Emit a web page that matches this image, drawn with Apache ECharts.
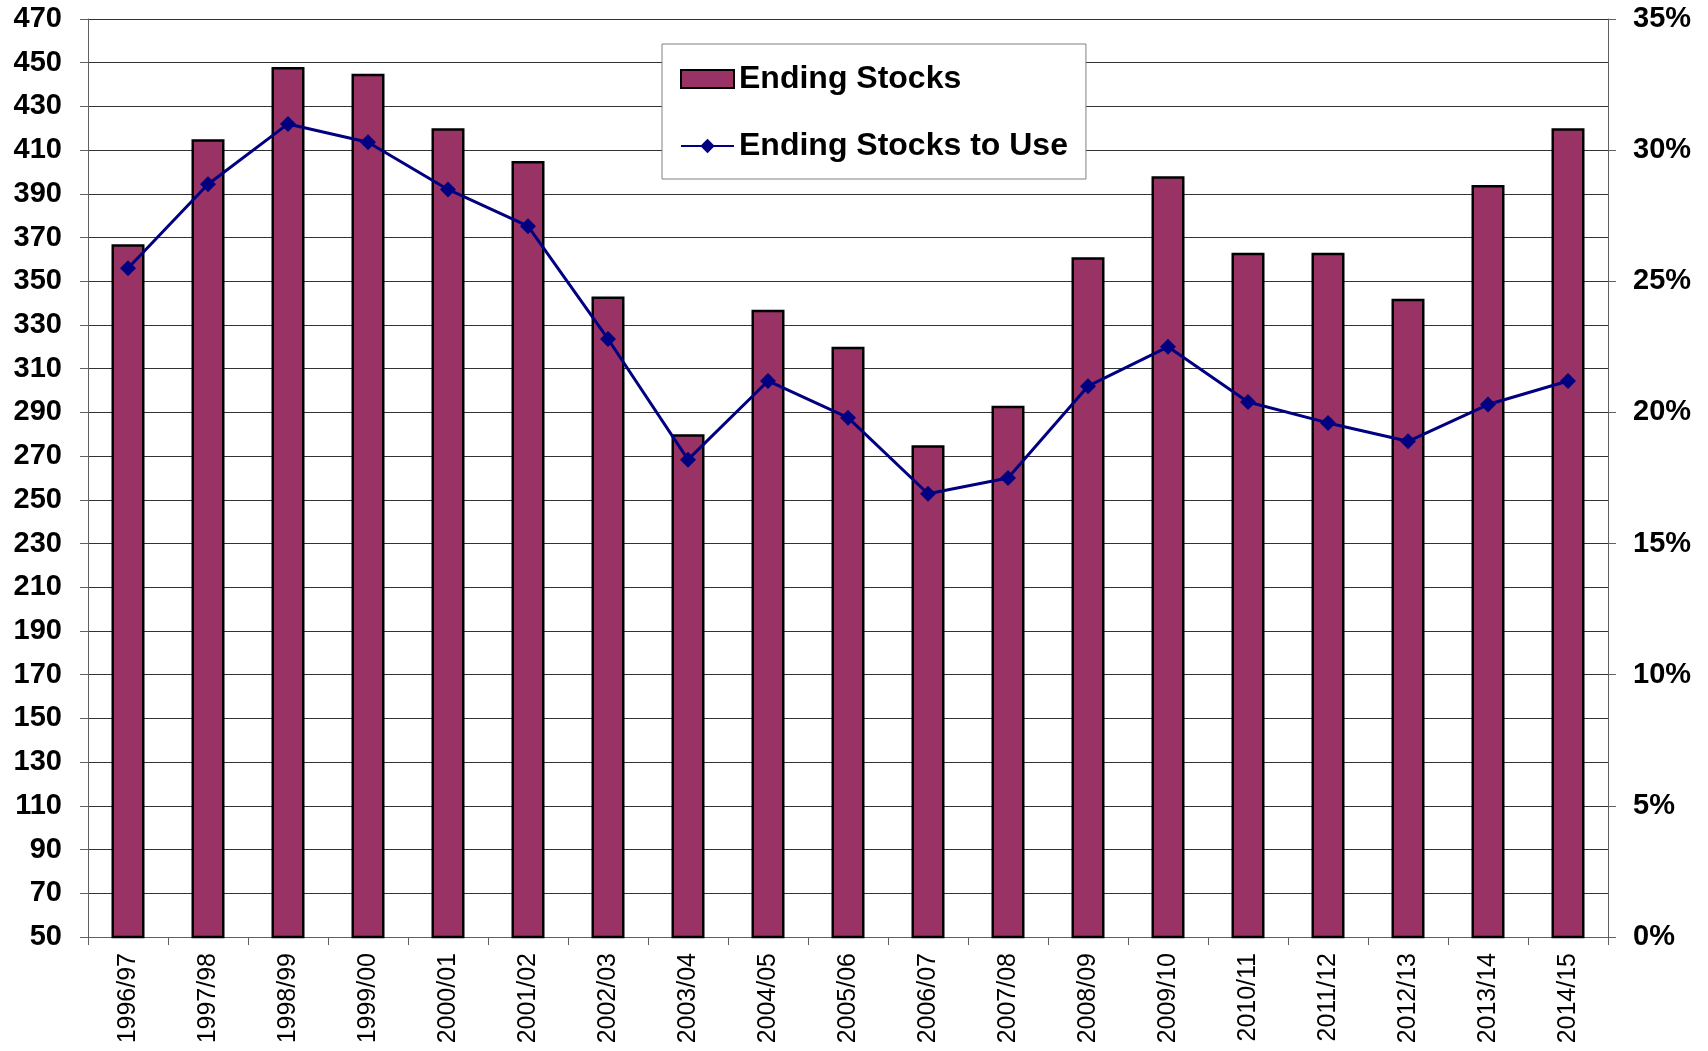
<!DOCTYPE html>
<html>
<head>
<meta charset="utf-8">
<title>Ending Stocks</title>
<script src="https://cdn.jsdelivr.net/npm/echarts@6/dist/echarts.min.js"></script>
<style>
  html, body { margin: 0; padding: 0; background: #fff; }
  #main { width: 1708px; height: 1051px; }
</style>
</head>
<body>
<div id="main"></div>
<script>
const years = ['1996/97', '1997/98', '1998/99', '1999/00', '2000/01', '2001/02', '2002/03',
  '2003/04', '2004/05', '2005/06', '2006/07', '2007/08', '2008/09', '2009/10',
  '2010/11', '2011/12', '2012/13', '2013/14', '2014/15'];
const endingStocks = [367, 415, 448, 445, 420, 405, 343, 280, 337, 320, 275, 293,
  361, 398, 363, 363, 342, 394, 420];
const stocksToUse = [25.5, 28.7, 31.0, 30.3, 28.5, 27.1, 22.8, 18.2, 21.2, 19.8, 16.9, 17.5,
  21.0, 22.5, 20.4, 19.6, 18.9, 20.3, 21.2];

const font = 'Arial, "Liberation Sans", sans-serif';

const chartDom = document.getElementById('main');
const myChart = echarts.init(chartDom);

const option = {
  backgroundColor: '#fff',
  animation: false,
  textStyle: { fontFamily: font },
  grid: {
    left: 88,
    right: 100,
    top: 19,
    bottom: 114,
  },
  legend: {
    orient: 'vertical',
    left: 662,
    top: 44,
    padding: [19, 18, 17, 18],
    backgroundColor: '#fff',
    borderColor: '#808080',
    borderWidth: 1,
    itemWidth: 53,
    itemHeight: 18,
    itemGap: 35,
    z: 10,
    textStyle: {
      fontFamily: font,
      fontSize: 32,
      fontWeight: 'bold',
      color: '#000',
      lineHeight: 30,
    },
    data: [
      { name: 'Ending Stocks', icon: 'rect' },
      { name: 'Ending Stocks to Use' },
    ],
  },
  xAxis: {
    type: 'category',
    data: years,
    axisLine: { onZero: false, lineStyle: { color: '#606060', width: 1 } },
    axisTick: { show: true, length: 8, lineStyle: { color: '#606060' } },
    axisLabel: {
      interval: 0,
      rotate: 90,
      margin: 16,
      fontSize: 25,
      fontFamily: font,
      color: '#000',
    },
  },
  yAxis: [
    {
      type: 'value',
      min: 50,
      max: 470,
      interval: 20,
      axisLine: { show: true, lineStyle: { color: '#606060' } },
      axisTick: { show: true, length: 8, lineStyle: { color: '#606060' } },
      axisLabel: {
        margin: 26,
        fontSize: 29,
        fontWeight: 'bold',
        fontFamily: font,
        color: '#000',
      },
      splitLine: { lineStyle: { color: '#333', width: 1 } },
    },
    {
      type: 'value',
      min: 0,
      max: 35,
      interval: 5,
      position: 'right',
      axisLine: { show: true, lineStyle: { color: '#606060' } },
      axisTick: { show: true, length: 8, lineStyle: { color: '#606060' } },
      axisLabel: {
        margin: 25,
        fontSize: 29,
        fontWeight: 'bold',
        fontFamily: font,
        color: '#000',
        formatter: '{value}%',
      },
      splitLine: { show: false },
    },
  ],
  series: [
    {
      name: 'Ending Stocks',
      type: 'bar',
      yAxisIndex: 0,
      barWidth: 33,
      clip: true,
      itemStyle: {
        color: '#993366',
        borderColor: '#000',
        borderWidth: 2.5,
      },
      data: endingStocks,
    },
    {
      name: 'Ending Stocks to Use',
      type: 'line',
      yAxisIndex: 1,
      symbol: 'diamond',
      symbolSize: 16,
      itemStyle: { color: '#000080' },
      lineStyle: { color: '#000080', width: 3 },
      z: 3,
      data: stocksToUse,
    },
  ],
};

myChart.setOption(option);

window.addEventListener('resize', () => {
  myChart.resize();
});
</script>
</body>
</html>
